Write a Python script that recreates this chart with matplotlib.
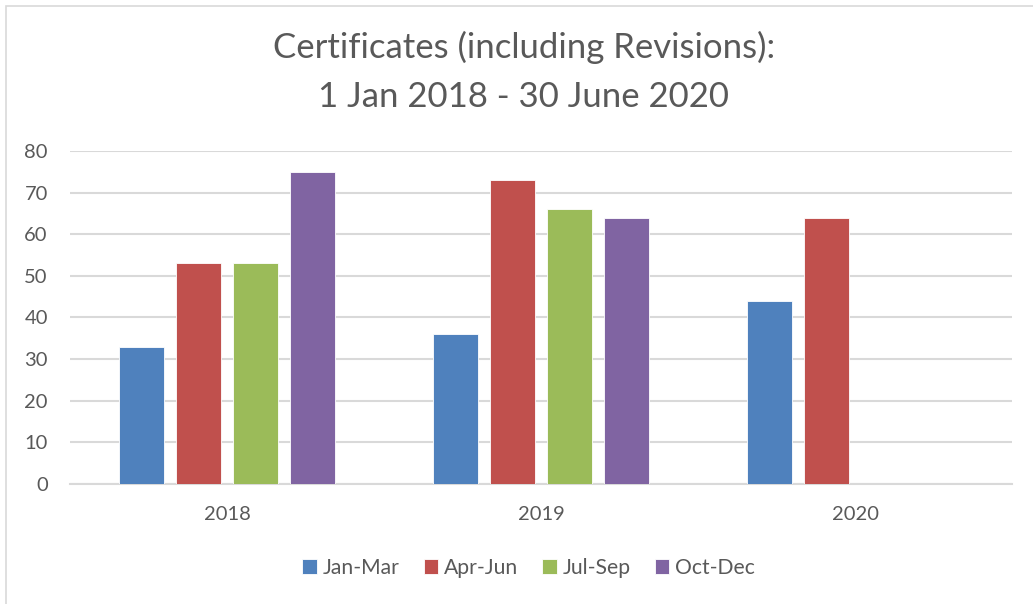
import numpy as np
import matplotlib.pyplot as plt
from matplotlib.patches import Rectangle

# data
years = ["2018", "2019", "2020"]
quarters = ["Jan-Mar", "Apr-Jun", "Jul-Sep", "Oct-Dec"]
jan_mar = [33, 36, 44]
apr_jun = [53, 73, 64]
jul_sep = [53, 66, np.nan]
oct_dec = [75, 64, np.nan]
series = [jan_mar, apr_jun, jul_sep, oct_dec]
colors = ["#4F81BD", "#C0504D", "#9BBB59", "#8064A2"]

plt.rcParams['font.family'] = ['Lato', 'DejaVu Sans']
text_gray = "#595959"
grid_gray = "#D9D9D9"

fig = plt.figure(figsize=(10.33, 6.04), dpi=100)
ax = fig.add_axes([0.0678, 0.1987, 0.9119, 0.5513])

x = np.arange(len(years))
pitch = 0.1815
width = 0.143
for i, (vals, name, c) in enumerate(zip(series, quarters, colors)):
    ax.bar(x + (i - 1.5) * pitch, vals, width, color=c, label=name,
           edgecolor="white", linewidth=0.6, zorder=3)

ax.set_xlim(-0.5, 2.5)
ax.set_ylim(0, 80)
ax.set_yticks(range(0, 81, 10))
ax.set_xticks(x)
ax.set_xticklabels(years)
ax.yaxis.grid(True, color=grid_gray, linewidth=1.5, zorder=0)
for s in ["left", "right", "top"]:
    ax.spines[s].set_visible(False)
ax.spines["bottom"].set_color(grid_gray)
ax.spines["bottom"].set_linewidth(1.5)
ax.tick_params(axis="both", length=0, labelsize=14.5, colors=text_gray)
ax.tick_params(axis="y", pad=16)
ax.tick_params(axis="x", pad=16)

fig.text(0.507, 0.921, "Certificates (including Revisions):", ha="center", va="center",
         fontsize=25, color=text_gray)
fig.text(0.507, 0.84, "1 Jan 2018 - 30 June 2020", ha="center", va="center",
         fontsize=25, color=text_gray)

leg = fig.legend(loc="center", bbox_to_anchor=(0.5116, 0.06), ncol=4, frameon=False,
                 fontsize=15.2, handlelength=0.7, handleheight=0.7,
                 handletextpad=0.25, columnspacing=1.15)
for t in leg.get_texts():
    t.set_color(text_gray)

# chart frame (left and top edges visible in the crop)
fig.patches.append(Rectangle((6 / 1033, -0.1), 1.2, 1.1 - 6 / 604,
                             transform=fig.transFigure, fill=False,
                             edgecolor=grid_gray, linewidth=1.2))

fig.savefig("out.png", dpi=100, facecolor="white")
